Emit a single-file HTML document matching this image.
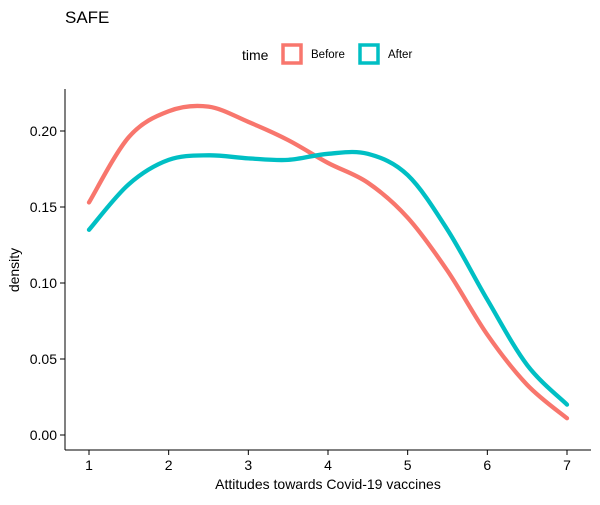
<!DOCTYPE html>
<html><head><meta charset="utf-8"><style>
body{margin:0;background:#fff;font-family:"Liberation Sans",Arial,sans-serif}
</style></head><body>
<svg width="600" height="500" xmlns="http://www.w3.org/2000/svg" font-family="Liberation Sans, Arial, sans-serif">
<text x="65" y="23" font-size="17" fill="#000">SAFE</text>
<g>
<text x="242" y="60" font-size="14">time</text>
<rect x="283" y="45" width="18" height="18" fill="none" stroke="#F8766D" stroke-width="3.5"/>
<text x="311" y="58" font-size="11.5">Before</text>
<rect x="360" y="45" width="18" height="18" fill="none" stroke="#00BFC4" stroke-width="3.5"/>
<text x="388" y="58" font-size="11.5">After</text>
</g>
<g id="axes"></g>
<g id="series"></g>
<text x="328" y="489" font-size="14" text-anchor="middle">Attitudes towards Covid-19 vaccines</text>
<text transform="translate(19,270) rotate(-90)" font-size="14" text-anchor="middle">density</text>
</svg>
<script>
const xs=[1,1.5,2,2.5,3,3.5,4,4.5,5,5.5,6,6.5,7];
const before=[0.153,0.196,0.213,0.216,0.206,0.194,0.179,0.166,0.143,0.108,0.066,0.033,0.011];
const after=[0.135,0.165,0.181,0.184,0.182,0.181,0.185,0.185,0.171,0.135,0.089,0.046,0.020];
const xTicks=[1,2,3,4,5,6,7];
const yTicks=[0,0.05,0.10,0.15,0.20];
const yLabels=["0.00","0.05","0.10","0.15","0.20"];
const X=v=>89+(v-1)*(567-89)/6, Y=v=>435-v*1520;
const NS="http://www.w3.org/2000/svg";
const ax=document.getElementById('axes'), sr=document.getElementById('series');
function mk(t,a,p){const e=document.createElementNS(NS,t);for(const k in a)e.setAttribute(k,a[k]);p.appendChild(e);return e;}
const xl=mk('line',{x1:65,y1:450,x2:591,y2:450,stroke:'#000','stroke-width':1},ax);


const yl=mk('line',{x1:65,y1:89,x2:65,y2:450,stroke:'#000','stroke-width':1},ax);


xTicks.forEach(t=>{
 mk('line',{x1:X(t),y1:450,x2:X(t),y2:455,stroke:'#000'},ax);
 const e=mk('text',{x:X(t),y:470,'font-size':14,'text-anchor':'middle',fill:'#000'},ax);e.textContent=t;
 
 
});
yTicks.forEach((t,i)=>{
 mk('line',{x1:60,y1:Y(t),x2:65,y2:Y(t),stroke:'#000'},ax);
 const e=mk('text',{x:57,y:Y(t)+5,'font-size':14,'text-anchor':'end',fill:'#000'},ax);e.textContent=yLabels[i];
 
 
});
function path(vals){
 const p=xs.map((x,i)=>[X(x),Y(vals[i])]);
 let d='M'+p[0][0]+','+p[0][1];
 for(let i=0;i<p.length-1;i++){
  const p0=p[Math.max(0,i-1)],p1=p[i],p2=p[i+1],p3=p[Math.min(p.length-1,i+2)];
  const c1=[p1[0]+(p2[0]-p0[0])/6,p1[1]+(p2[1]-p0[1])/6],c2=[p2[0]-(p3[0]-p1[0])/6,p2[1]-(p3[1]-p1[1])/6];
  d+=' C'+c1+' '+c2+' '+p2;
 }
 return d;
}
const lb=mk('path',{d:path(before),fill:'none',stroke:'#F8766D','stroke-width':4.3,'stroke-linecap':'round'},sr);


const la=mk('path',{d:path(after),fill:'none',stroke:'#00BFC4','stroke-width':4.3,'stroke-linecap':'round'},sr);


</script>
</body></html>
